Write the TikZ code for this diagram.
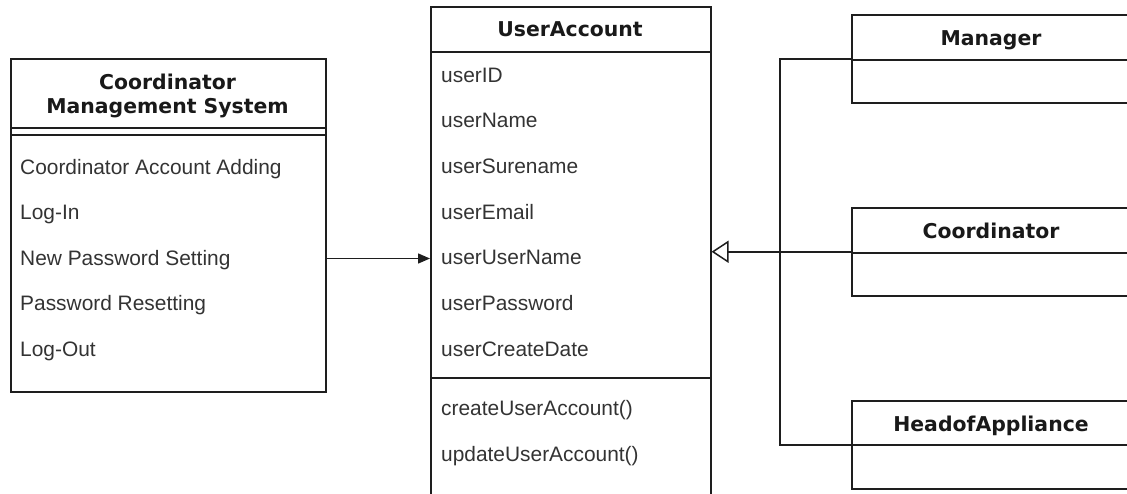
\documentclass[tikz,border=0pt]{standalone}
\usepackage{fontspec}
\setmainfont{Liberation Sans}
\newfontfamily\titlefont{DejaVu Sans}
\usetikzlibrary{arrows.meta}
\definecolor{ln}{HTML}{1E1E1E}
\definecolor{tx}{HTML}{333333}
\tikzset{
  box/.style={draw=ln, line width=1.5pt, rectangle, inner sep=0pt, anchor=north west},
  item/.style={anchor=base west, inner sep=0pt, text height=15pt, text depth=3pt, text=tx, font=\fontsize{20.9}{24}\selectfont},
  ttl/.style={anchor=base, inner sep=0pt, text=black!90, font=\titlefont\bfseries\fontsize{20.4}{23.5}\selectfont},
  conn/.style={draw=ln, line width=1.5pt}
}
\begin{document}
\begin{tikzpicture}[x=1pt,y=1pt]
\path[use as bounding box, clip] (0,0) rectangle (1127,-493);
% Coordinator Management System
\node[box, minimum width=315pt, minimum height=333pt] (cms) at (10,-58) {};
\draw[conn] (10,-128) -- (325,-128);
\draw[conn] (10,-135) -- (325,-135);
\node[ttl] (cmst1) at (167.5,-89) {Coordinator};
\node[ttl] (cmst2) at (167.5,-113) {Management System};
\node[item] (c1) at (20,-174) {Coordinator Account Adding};
\node[item] (c2) at (20,-219.5) {Log-In};
\node[item] (c3) at (20,-265) {New Password Setting};
\node[item] (c4) at (20,-310.5) {Password Resetting};
\node[item] (c5) at (20,-356) {Log-Out};
% UserAccount
\node[box, minimum width=280pt, minimum height=540pt] (ua) at (430,-6) {};
\draw[conn] (430,-52) -- (710,-52);
\draw[conn] (430,-378) -- (710,-378);
\node[ttl] (uat) at (570,-36) {UserAccount};
\node[item] (a1) at (441,-82) {userID};
\node[item] (a2) at (441,-127.7) {userName};
\node[item] (a3) at (441,-173.3) {userSurename};
\node[item] (a4) at (441,-219) {userEmail};
\node[item] (a5) at (441,-264.5) {userUserName};
\node[item] (a6) at (441,-310) {userPassword};
\node[item] (a7) at (441,-356) {userCreateDate};
\node[item] (m1) at (441,-415) {createUserAccount()};
\node[item] (m2) at (441,-461) {updateUserAccount()};
% Right classes
\node[box, minimum width=280pt, minimum height=88pt] (mgr) at (851,-14) {};
\draw[conn] (851,-60) -- (1131,-60);
\node[ttl] (mgrt) at (991,-45) {Manager};
\node[box, minimum width=280pt, minimum height=88pt] (crd) at (851,-207) {};
\draw[conn] (851,-253) -- (1131,-253);
\node[ttl] (crdt) at (991,-238) {Coordinator};
\node[box, minimum width=280pt, minimum height=88pt] (hoa) at (851,-400) {};
\draw[conn] (851,-445) -- (1131,-445);
\node[ttl] (hoat) at (991,-431) {HeadofAppliance};
% connectors
\coordinate (j) at (780,-251);
\draw[conn, -{Triangle[length=12pt,width=10pt]}] (cms.east |- a5.west) -- (ua.west |- a5.west);
\draw[conn] (mgr.west) -| (j) |- (hoa.west);
\draw[conn, -{Triangle[open,length=17pt,width=22pt]}] (crd.west) -- (ua.east |- crd.west);
\end{tikzpicture}
\end{document}
